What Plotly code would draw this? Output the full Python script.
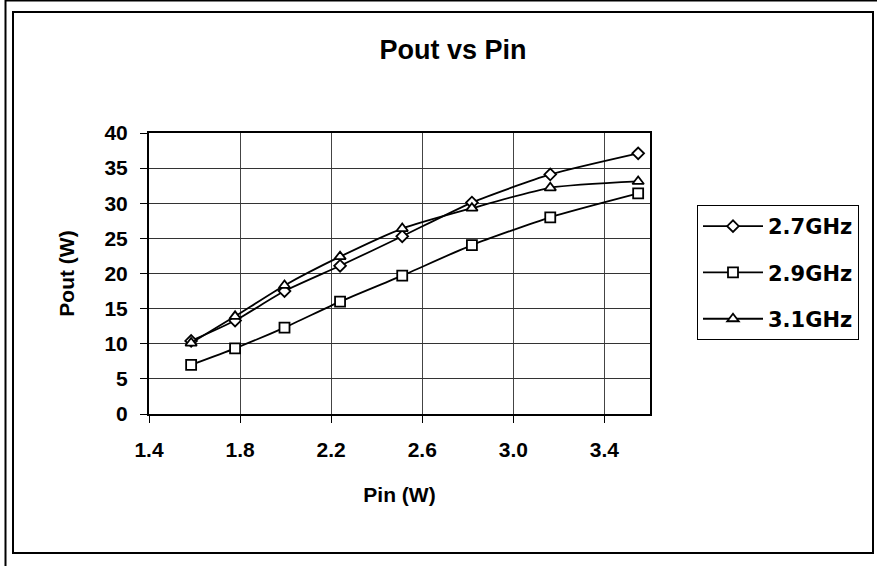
import plotly.graph_objects as go

# ---- data ----
pin_w = [1.585, 1.778, 1.995, 2.239, 2.512, 2.818, 3.162, 3.548]
pout_27 = [10.4, 13.3, 17.5, 21.1, 25.3, 30.1, 34.1, 37.1]
pout_29 = [7.0, 9.35, 12.3, 16.0, 19.7, 24.05, 28.0, 31.4]
pout_31 = [10.1, 13.9, 18.3, 22.4, 26.4, 29.3, 32.2, 33.1]
series_names = ["2.7GHz", "2.9GHz", "3.1GHz"]
x_ticks = [1.4, 1.8, 2.2, 2.6, 3.0, 3.4]
x_tick_labels = ["1.4", "1.8", "2.2", "2.6", "3.0", "3.4"]
y_ticks = [0, 5, 10, 15, 20, 25, 30, 35, 40]
y_tick_labels = ["0", "5", "10", "15", "20", "25", "30", "35", "40"]

W, H = 877, 566
PL, PR, PT, PB = 149, 650, 133, 414  # plot area in pixels
FONT = "Liberation Sans, Arial, sans-serif"
LEGEND_FONT = "DejaVu Sans, Liberation Sans, sans-serif"


def px(x):
    return (x - PL) / (PR - PL)


def py(y):
    return (PB - y) / (PB - PT)


fig = go.Figure()
symbols = ["diamond", "square", "triangle-up"]
sizes = [9, 10, 10]
for i, (name, ys) in enumerate(zip(series_names, [pout_27, pout_29, pout_31])):
    fig.add_trace(go.Scatter(
        x=pin_w, y=ys, name=name, mode="lines+markers",
        line=dict(color="black", width=1.8, shape="spline", smoothing=0.6),
        marker=dict(symbol=symbols[i], size=sizes[i], color="white",
                    line=dict(color="black", width=1.8)),
        legendgroup=name,
    ))

shapes = [
    # inner chart-area border
    dict(type="rect", xref="paper", yref="paper",
         x0=px(13), x1=px(873), y0=py(553), y1=py(12),
         line=dict(color="black", width=2), layer="below"),
    # outer frame lines (left and top)
    dict(type="line", xref="paper", yref="paper",
         x0=px(5.5), x1=px(5.5), y0=py(566), y1=py(0),
         line=dict(color="black", width=2)),
    dict(type="line", xref="paper", yref="paper",
         x0=px(5), x1=px(877), y0=py(0.5), y1=py(0.5),
         line=dict(color="black", width=2)),
]

bold = dict(family=FONT, color="black", weight="bold")

fig.update_layout(
    width=W, height=H,
    margin=dict(l=PL, r=W - PR, t=PT, b=H - PB, pad=0),
    paper_bgcolor="white", plot_bgcolor="white",
    font=dict(family=FONT, color="black", size=20),
    title=dict(text="Pout vs Pin", x=453 / W, xanchor="center",
               y=1 - 50 / H, yanchor="middle",
               font=dict(size=27, **bold)),
    showlegend=True,
    legend=dict(x=px(697), y=py(205), xanchor="left", yanchor="top",
                bordercolor="black", borderwidth=1, bgcolor="white",
                font=dict(size=21, family=LEGEND_FONT, color="black",
                          weight="bold"),
                traceorder="grouped", tracegroupgap=16, itemwidth=60),
    shapes=shapes,
    xaxis=dict(range=[1.4, 3.6], tickvals=x_ticks, ticktext=x_tick_labels,
               tickfont=dict(size=21, **bold),
               showgrid=True, gridcolor="#444444", gridwidth=1,
               showline=True, linecolor="black", linewidth=2, mirror=True,
               ticks="outside", ticklen=7, tickcolor="black", tickwidth=1,
               ticklabelstandoff=9, zeroline=False,
               title=dict(text="Pin (W)", standoff=27,
                          font=dict(size=21, **bold))),
    yaxis=dict(range=[0, 40], tickvals=y_ticks, ticktext=y_tick_labels,
               tickfont=dict(size=21, **bold),
               showgrid=True, gridcolor="#333333", gridwidth=1,
               showline=True, linecolor="black", linewidth=2, mirror=True,
               ticks="outside", ticklen=7, tickcolor="black", tickwidth=1,
               ticklabelstandoff=8, zeroline=False,
               title=dict(text="Pout (W)", standoff=24,
                          font=dict(size=21, **bold))),
)

fig.write_html("out.html", config={"displayModeBar": False},
               post_script="document.body.style.margin='0';")
